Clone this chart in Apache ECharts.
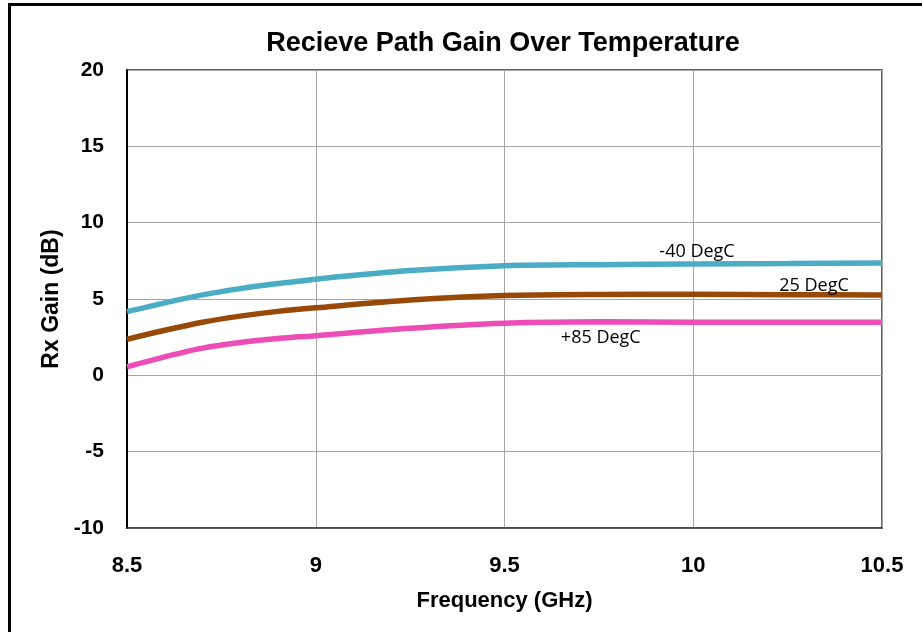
<!DOCTYPE html>
<html>
<head>
<meta charset="utf-8">
<script src="https://cdn.jsdelivr.net/npm/echarts@6/dist/echarts.min.js"></script>
<style>
html,body{margin:0;padding:0;background:#fff;}
#chart{width:922px;height:632px;}
</style>
</head>
<body>
<div id="chart"></div>
<script>
const freqGHz = [8.5, 8.6, 8.7, 8.8, 8.9, 9.0, 9.25, 9.5, 9.75, 10.0, 10.25, 10.5];
const gainM40 = [4.17, 4.75, 5.27, 5.68, 6.01, 6.30, 6.86, 7.18, 7.25, 7.29, 7.32, 7.36];
const gain25  = [2.36, 2.95, 3.48, 3.88, 4.19, 4.42, 4.93, 5.23, 5.30, 5.31, 5.28, 5.27];
const gain85  = [0.56, 1.21, 1.78, 2.15, 2.41, 2.60, 3.08, 3.41, 3.51, 3.47, 3.47, 3.47];
const seriesNames = ['-40 DegC', '25 DegC', '+85 DegC'];
const labelFreq = [10.01, 10.32, 9.755];
const labelGain = [8.08, 5.85, 2.44];
const xTicks = [8.5, 9, 9.5, 10, 10.5];
const yTicks = [-10, -5, 0, 5, 10, 15, 20];

const colors = ['#4BACC6', '#984807', '#EC4DB6'];
const allGains = [gainM40, gain25, gain85];

const chart = echarts.init(document.getElementById('chart'));
const series = allGains.map((g, i) => ({
  name: seriesNames[i],
  type: 'line',
  smooth: 0.3,
  symbol: 'none',
  lineStyle: { color: colors[i], width: 5.5 },
  data: freqGHz.map((f, j) => [f, g[j]]),
  markPoint: {
    symbol: 'circle',
    symbolSize: 0,
    data: [{ coord: [labelFreq[i], labelGain[i]], name: seriesNames[i] }],
    label: {
      show: true,
      formatter: seriesNames[i],
      color: '#000',
      fontFamily: 'Open Sans',
      fontSize: 18,
      position: 'inside'
    }
  }
}));

chart.setOption({
  animation: false,
  backgroundColor: '#fff',
  title: {
    text: 'Recieve Path Gain Over Temperature',
    left: 498,
    textAlign: 'center',
    top: 25,
    textStyle: { fontFamily: 'Liberation Sans, Arial', fontWeight: 'bold', fontSize: 27, color: '#000' }
  },
  graphic: [{
    type: 'rect',
    shape: { x: 9.5, y: 4.5, width: 1000, height: 1000 },
    style: { fill: 'none', stroke: '#000', lineWidth: 3 }
  }],
  grid: {
    left: 127, top: 70, right: 40, bottom: 104,
    show: true, borderColor: '#303030', borderWidth: 1.5, backgroundColor: 'transparent'
  },
  xAxis: {
    type: 'value',
    min: xTicks[0], max: xTicks[xTicks.length - 1], interval: 0.5,
    name: 'Frequency (GHz)',
    nameLocation: 'middle',
    nameGap: 62,
    nameTextStyle: { fontFamily: 'Liberation Sans, Arial', fontWeight: 'bold', fontSize: 22, color: '#000' },
    axisLine: { show: true, onZero: false, lineStyle: { color: '#404040', width: 1.5 } },
    axisTick: { show: false },
    axisLabel: {
      margin: 27,
      fontFamily: 'Liberation Sans, Arial', fontWeight: 'bold', fontSize: 22, color: '#000',
      formatter: v => String(v)
    },
    splitLine: { show: true, lineStyle: { color: '#A6A6A6', width: 1 } }
  },
  yAxis: {
    type: 'value',
    min: yTicks[0], max: yTicks[yTicks.length - 1], interval: 5,
    name: 'Rx Gain (dB)',
    nameLocation: 'middle',
    nameGap: 64,
    nameRotate: 90,
    nameTextStyle: { fontFamily: 'Liberation Sans, Arial', fontWeight: 'bold', fontSize: 23, color: '#000' },
    axisLine: { show: true, onZero: false, lineStyle: { color: '#000', width: 2 } },
    axisTick: { show: false },
    axisLabel: {
      margin: 23,
      fontFamily: 'Liberation Sans, Arial', fontWeight: 'bold', fontSize: 21, color: '#000'
    },
    splitLine: { show: true, lineStyle: { color: '#A6A6A6', width: 1 } }
  },
  series: series
});
</script>
</body>
</html>
